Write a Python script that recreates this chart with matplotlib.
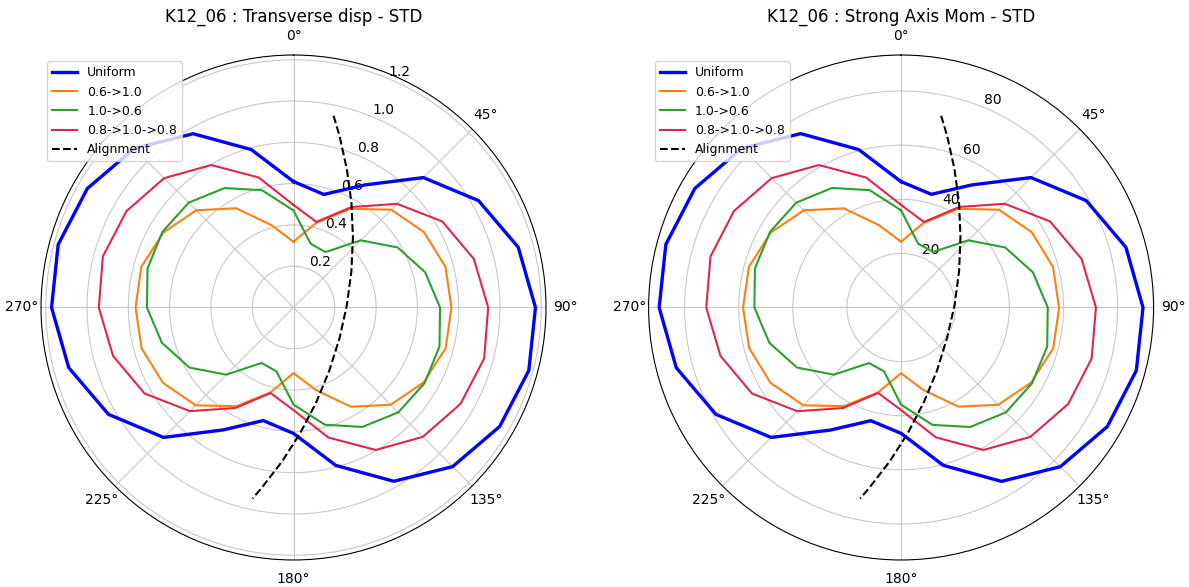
import numpy as np
import matplotlib
matplotlib.use("Agg")
import matplotlib.pyplot as plt

# loading direction (deg), 0..360 step 15
angles = [0, 15, 30, 45, 60, 75, 90, 105, 120, 135, 150, 165,
          180, 195, 210, 225, 240, 255, 270, 285, 300, 315, 330, 345, 360]

# Transverse disp - STD
disp_uniform = [0.61, 0.567, 0.685, 0.89, 1.035, 1.127, 1.172, 1.18, 1.153, 1.09, 0.972, 0.792,
                0.61, 0.567, 0.685, 0.89, 1.035, 1.127, 1.172, 1.18, 1.153, 1.09, 0.972, 0.792, 0.61]
disp_06_10 = [0.318, 0.425, 0.552, 0.67, 0.73, 0.762, 0.765, 0.763, 0.727, 0.666, 0.555, 0.413,
              0.318, 0.425, 0.552, 0.67, 0.73, 0.762, 0.765, 0.763, 0.727, 0.666, 0.555, 0.413, 0.318]
disp_10_06 = [0.47, 0.32, 0.31, 0.46, 0.582, 0.66, 0.71, 0.732, 0.733, 0.718, 0.668, 0.588,
              0.47, 0.32, 0.31, 0.46, 0.582, 0.66, 0.71, 0.732, 0.733, 0.718, 0.668, 0.588, 0.47]
disp_08_10_08 = [0.497, 0.429, 0.562, 0.71, 0.833, 0.905, 0.943, 0.956, 0.934, 0.886, 0.797, 0.652,
                 0.497, 0.429, 0.562, 0.71, 0.833, 0.905, 0.943, 0.956, 0.934, 0.886, 0.797, 0.652, 0.497]

# Strong Axis Mom - STD
mom_uniform = [46.5, 43.3, 52.3, 67.9, 79.0, 86.0, 89.4, 90.0, 88.0, 83.2, 74.2, 60.4,
               46.5, 43.3, 52.3, 67.9, 79.0, 86.0, 89.4, 90.0, 88.0, 83.2, 74.2, 60.4, 46.5]
mom_06_10 = [24.3, 32.4, 42.1, 51.1, 55.7, 58.1, 58.4, 58.2, 55.5, 50.8, 42.3, 31.5,
             24.3, 32.4, 42.1, 51.1, 55.7, 58.1, 58.4, 58.2, 55.5, 50.8, 42.3, 31.5, 24.3]
mom_10_06 = [35.9, 24.4, 23.7, 35.1, 44.4, 50.4, 54.2, 55.9, 55.9, 54.8, 51.0, 44.9,
             35.9, 24.4, 23.7, 35.1, 44.4, 50.4, 54.2, 55.9, 55.9, 54.8, 51.0, 44.9, 35.9]
mom_08_10_08 = [37.9, 32.7, 42.9, 54.2, 63.6, 69.1, 72.0, 72.9, 71.3, 67.6, 60.8, 49.7,
                37.9, 32.7, 42.9, 54.2, 63.6, 69.1, 72.0, 72.9, 71.3, 67.6, 60.8, 49.7, 37.9]

# bridge alignment
align_theta = [11.8, 15.0, 21.1, 29.0, 40.2, 57.9, 87.3, 123.7, 150.5, 166.5, 176.8, 184.2, 190.1, 192.1]
align_disp = [0.949, 0.861, 0.718, 0.579, 0.446, 0.331, 0.259, 0.268, 0.352, 0.472, 0.607, 0.747, 0.890, 0.946]
align_mom = [72.4, 65.7, 54.8, 44.2, 34.0, 25.3, 19.8, 20.4, 26.9, 36.0, 46.3, 57.0, 67.9, 72.2]

labels = ["Uniform", "0.6->1.0", "1.0->0.6", "0.8->1.0->0.8"]
colors = ["#0000ff", "#ff7f0e", "#2ca02c", "#e0264a"]
widths = [2.4, 1.5, 1.5, 1.5]

# 315 deg label sits under the legend in the original
theta_ticks = [0, 45, 90, 135, 180, 225, 270, 315]
theta_labels = ["0°", "45°", "90°", "135°", "180°", "225°", "270°", ""]

fig = plt.figure(figsize=(11.89, 5.87), dpi=100)
ax1 = fig.add_axes([0.0345, 0.046, 0.4247, 0.8603], projection="polar")
ax2 = fig.add_axes([0.5455, 0.046, 0.4247, 0.8603], projection="polar")

th = np.radians(angles)
at = np.radians(align_theta)

panels = [
    (ax1, [disp_uniform, disp_06_10, disp_10_06, disp_08_10_08], align_disp,
     "K12_06 : Transverse disp - STD", [0.2, 0.4, 0.6, 0.8, 1.0, 1.2], 1.223),
    (ax2, [mom_uniform, mom_06_10, mom_10_06, mom_08_10_08], align_mom,
     "K12_06 : Strong Axis Mom - STD", [20, 40, 60, 80], 93.3),
]

for ax, series, align, title, rticks, rmax in panels:
    ax.set_theta_zero_location("N")
    ax.set_theta_direction(-1)
    for vals, lab, c, lw in zip(series, labels, colors, widths):
        ax.plot(th, vals, color=c, lw=lw, label=lab)
    ax.plot(at, align, "k--", lw=1.5, label="Alignment")
    ax.set_ylim(0, rmax)
    ax.set_rticks(rticks)
    ax.set_thetagrids(theta_ticks, theta_labels)
    ax.grid(color="#c8c8c8", lw=0.8)
    ax.set_title(title, pad=5)
    ax.legend(loc="upper left", fontsize=9)

fig.savefig("out.png", dpi=100)
